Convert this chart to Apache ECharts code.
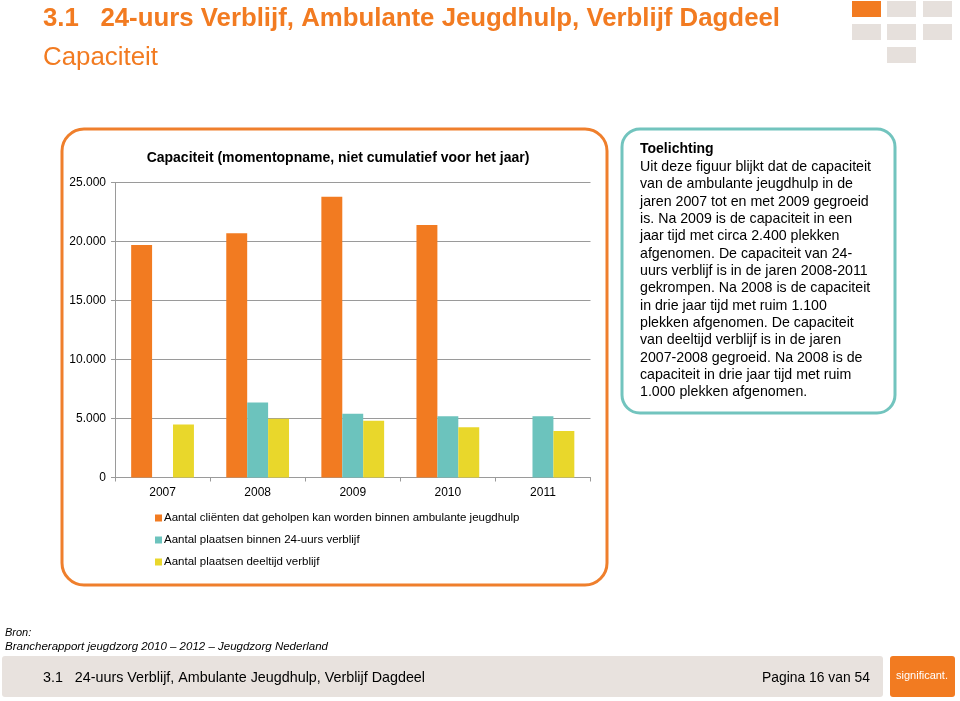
<!DOCTYPE html>
<html>
<head>
<meta charset="utf-8">
<script src="https://cdn.jsdelivr.net/npm/echarts@6/dist/echarts.min.js"></script>
<style>
html,body{margin:0;padding:0;background:#fff;}
#c{width:960px;height:701px;}
</style>
</head>
<body>
<div id="c"></div>
<script>
const categories = ['2007', '2008', '2009', '2010', '2011'];
const ambulantValues = [19700, 20700, 23800, 21400, null];
const verblijf24Values = [null, 6350, 5400, 5200, 5200];
const deeltijdValues = [4500, 4980, 4800, 4250, 3950];
const seriesNames = [
  'Aantal cliënten dat geholpen kan worden binnen ambulante jeugdhulp',
  'Aantal plaatsen binnen 24-uurs verblijf',
  'Aantal plaatsen deeltijd verblijf'
];
const yMin = 0, yMax = 25000, yStep = 5000;

const pageTitle = '3.1   24-uurs Verblijf, Ambulante Jeugdhulp, Verblijf Dagdeel';
const pageSubtitle = 'Capaciteit';
const chartTitle = 'Capaciteit (momentopname, niet cumulatief voor het jaar)';
const noteTitle = 'Toelichting';
const noteLines = [
  'Uit deze figuur blijkt dat de capaciteit',
  'van de ambulante jeugdhulp in de',
  'jaren 2007 tot en met 2009 gegroeid',
  'is. Na 2009 is de capaciteit in een',
  'jaar tijd met circa 2.400 plekken',
  'afgenomen. De capaciteit van 24-',
  'uurs verblijf is in de jaren 2008-2011',
  'gekrompen. Na 2008 is de capaciteit',
  'in drie jaar tijd met ruim 1.100',
  'plekken afgenomen. De capaciteit',
  'van deeltijd verblijf is in de jaren',
  '2007-2008 gegroeid. Na 2008 is de',
  'capaciteit in drie jaar tijd met ruim',
  '1.000 plekken afgenomen.'
];
const sourceLabel = 'Bron:';
const sourceText = 'Brancherapport jeugdzorg 2010 \u2013 2012 \u2013 Jeugdzorg Nederland';
const footerText = '3.1   24-uurs Verblijf, Ambulante Jeugdhulp, Verblijf Dagdeel';
const pageText = 'Pagina 16 van 54';
const logoText = 'significant.';

const ORANGE = '#f27b21', TEAL = '#6cc3bd', YELLOW = '#e9d72b';
const FONT = '"Liberation Sans", Arial, sans-serif';

const mctx = document.createElement('canvas').getContext('2d');
function fit(text, font, target) {
  mctx.font = font;
  return target / mctx.measureText(text).width;
}
function fmt(v) { return String(v).replace(/\B(?=(\d{3})+(?!\d))/g, '.'); }

const chart = echarts.init(document.getElementById('c'), null, {renderer: 'canvas'});

const squares = [
  [852, 1, ORANGE], [887, 1, '#e6e0dc'], [923, 1, '#e6e0dc'],
  [852, 24, '#e6e0dc'], [887, 24, '#e6e0dc'], [923, 24, '#e6e0dc'],
  [887, 47, '#e6e0dc']
];

const graphics = [];
squares.forEach(s => graphics.push({type: 'rect', shape: {x: s[0], y: s[1], width: 29, height: 16}, style: {fill: s[2]}, z: 1}));

graphics.push({
  type: 'text', x: 43, y: 19, scaleX: fit(pageTitle, 'bold 25px ' + FONT, 737),
  style: {text: pageTitle, fontFamily: FONT, fontSize: 25, fontWeight: 'bold', fill: ORANGE, textVerticalAlign: 'middle'}
});
graphics.push({
  type: 'text', x: 43, y: 58, scaleX: fit(pageSubtitle, '25px ' + FONT, 115),
  style: {text: pageSubtitle, fontFamily: FONT, fontSize: 25, fill: ORANGE, textVerticalAlign: 'middle'}
});
graphics.push({
  type: 'rect', shape: {x: 62, y: 129, width: 545, height: 456, r: 22},
  style: {fill: 'none', stroke: '#ef7f2c', lineWidth: 3}, z: 0
});
graphics.push({
  type: 'rect', shape: {x: 622, y: 129, width: 273, height: 284, r: 18},
  style: {fill: '#fff', stroke: '#72c4be', lineWidth: 3}, z: 0
});
graphics.push({
  type: 'text', x: 640, y: 149,
  style: {text: noteTitle, fontFamily: FONT, fontSize: 14, fontWeight: 'bold', fill: '#000', textVerticalAlign: 'middle'}
});
noteLines.forEach((ln, i) => graphics.push({
  type: 'text', x: 640, y: 167 + i * 17.35,
  style: {text: ln, fontFamily: FONT, fontSize: 14.2, fill: '#000', textVerticalAlign: 'middle'}
}));
graphics.push({
  type: 'text', x: 5, y: 633,
  style: {text: sourceLabel, fontFamily: FONT, fontSize: 11, fontStyle: 'italic', fill: '#000', textVerticalAlign: 'middle'}
});
graphics.push({
  type: 'text', x: 5, y: 647, scaleX: fit(sourceText, 'italic 11px ' + FONT, 323),
  style: {text: sourceText, fontFamily: FONT, fontSize: 11, fontStyle: 'italic', fill: '#000', textVerticalAlign: 'middle'}
});
graphics.push({type: 'rect', shape: {x: 2, y: 656, width: 881, height: 41, r: 3}, style: {fill: '#e8e2de'}});
graphics.push({type: 'rect', shape: {x: 890, y: 656, width: 65, height: 41, r: 3}, style: {fill: ORANGE}});
graphics.push({
  type: 'text', x: 43, y: 678, scaleX: fit(footerText, '15px ' + FONT, 382),
  style: {text: footerText, fontFamily: FONT, fontSize: 15, fill: '#000', textVerticalAlign: 'middle'}
});
graphics.push({
  type: 'text', x: 762, y: 678, scaleX: fit(pageText, '15px ' + FONT, 108),
  style: {text: pageText, fontFamily: FONT, fontSize: 15, fill: '#000', textVerticalAlign: 'middle'}
});
graphics.push({
  type: 'text', x: 922, y: 676,
  style: {text: logoText, fontFamily: FONT, fontSize: 11, fill: '#fff', textAlign: 'center', textVerticalAlign: 'middle'}
});

const option = {
  animation: false,
  backgroundColor: '#fff',
  title: {
    text: chartTitle, left: 333, top: 146, textAlign: 'center',
    textStyle: {fontFamily: FONT, fontSize: 14, fontWeight: 'bold', color: '#000'}
  },
  grid: {left: 115, right: 369.5, top: 182.5, bottom: 223.5, containLabel: false},
  legend: {
    orient: 'vertical', left: 150, top: 506,
    itemWidth: 7, itemHeight: 7, itemGap: 8, icon: 'rect',
    textStyle: {fontFamily: FONT, fontSize: 11.5, color: '#000', padding: [0, 0, 0, -3], lineHeight: 14},
    data: seriesNames
  },
  xAxis: {
    type: 'category', data: categories,
    axisLine: {lineStyle: {color: '#9a9a9a', width: 1}},
    axisTick: {show: true, length: 4, lineStyle: {color: '#9a9a9a'}},
    axisLabel: {fontFamily: FONT, fontSize: 12, color: '#000', margin: 9}
  },
  yAxis: {
    type: 'value', min: yMin, max: yMax, interval: yStep,
    axisLine: {show: true, lineStyle: {color: '#9a9a9a', width: 1}},
    axisTick: {show: true, length: 4, lineStyle: {color: '#9a9a9a'}},
    splitLine: {lineStyle: {color: '#9a9a9a', width: 1}},
    axisLabel: {fontFamily: FONT, fontSize: 12, color: '#000', margin: 9, formatter: v => fmt(v)}
  },
  series: [
    {name: seriesNames[0], type: 'bar', data: ambulantValues, itemStyle: {color: ORANGE}, barGap: '0%', barCategoryGap: '34%'},
    {name: seriesNames[1], type: 'bar', data: verblijf24Values, itemStyle: {color: TEAL}, barGap: '0%', barCategoryGap: '34%'},
    {name: seriesNames[2], type: 'bar', data: deeltijdValues, itemStyle: {color: YELLOW}, barGap: '0%', barCategoryGap: '34%'}
  ],
  graphic: graphics
};
chart.setOption(option);
</script>
</body>
</html>
